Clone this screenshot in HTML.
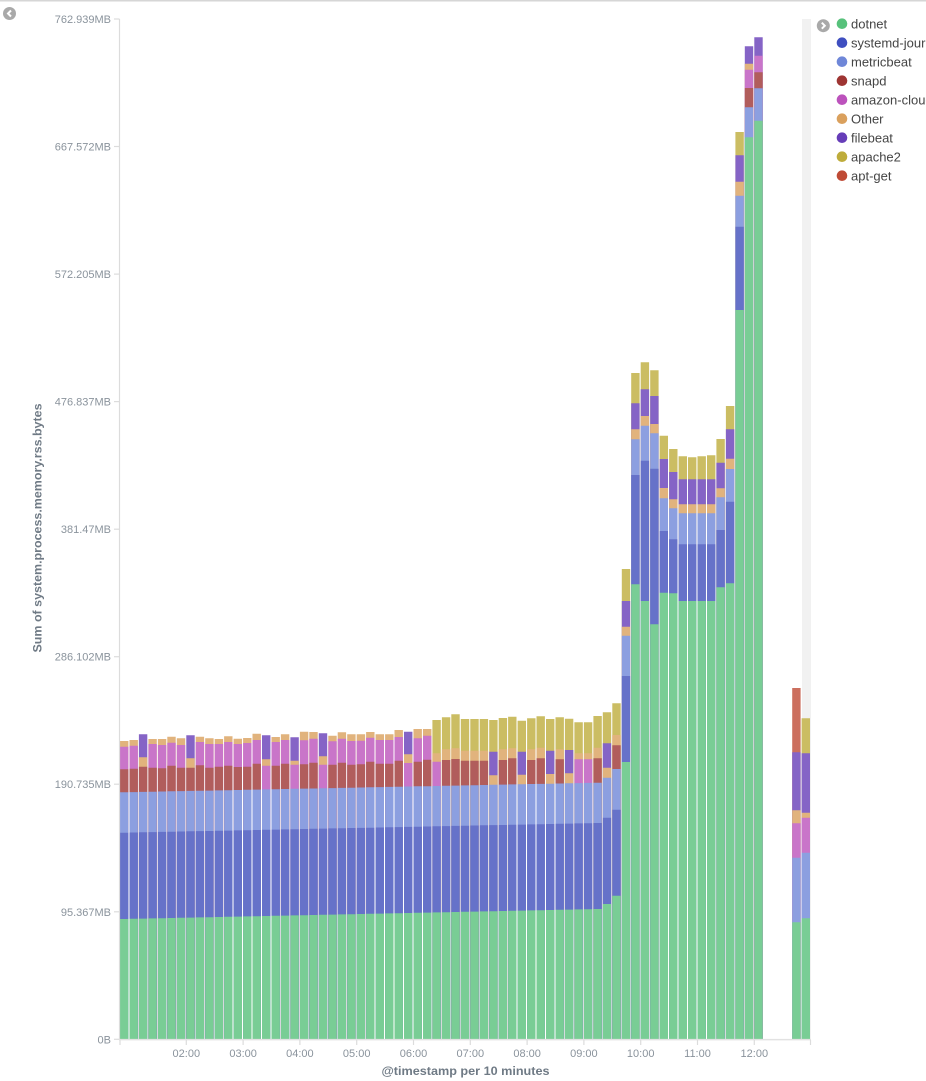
<!DOCTYPE html>
<html>
<head>
<meta charset="utf-8">
<style>
html,body{margin:0;padding:0;background:#fff;width:926px;height:1081px;overflow:hidden;}
svg{display:block;}
.ax{font-family:"Liberation Sans",sans-serif;font-size:11px;fill:#8a939c;}
.tt{font-family:"Liberation Sans",sans-serif;font-size:12px;font-weight:bold;fill:#6f7a85;}
.lg{font-family:"Liberation Sans",sans-serif;font-size:13px;fill:#454545;}
path.b{fill:none;stroke-width:8.4;}
</style>
</head>
<body>
<svg width="926" height="1081" viewBox="0 0 926 1081" xmlns="http://www.w3.org/2000/svg">
<rect x="0" y="0" width="926" height="1081" fill="#fff"/>
<rect x="0" y="0" width="926" height="1.5" fill="#d6d6d6"/>

<!-- collapse icons -->
<circle cx="9.5" cy="13.5" r="6.5" fill="#a9a9a9"/>
<path d="M11 10.5 L8 13.5 L11 16.5" fill="none" stroke="#fff" stroke-width="2"/>
<circle cx="823.3" cy="25.7" r="6.5" fill="#a9a9a9"/>
<path d="M821.8 22.7 L824.8 25.7 L821.8 28.7" fill="none" stroke="#fff" stroke-width="2"/>

<!-- grey band -->
<rect x="802" y="19" width="9" height="1021" fill="#f1f1f1"/>

<!-- y axis ticks/labels -->
<g stroke="#dcdcdc" stroke-width="1.2">
<line x1="114" y1="19" x2="119.5" y2="19"/>
<line x1="114" y1="146.5" x2="119.5" y2="146.5"/>
<line x1="114" y1="274.1" x2="119.5" y2="274.1"/>
<line x1="114" y1="401.6" x2="119.5" y2="401.6"/>
<line x1="114" y1="529.2" x2="119.5" y2="529.2"/>
<line x1="114" y1="656.7" x2="119.5" y2="656.7"/>
<line x1="114" y1="784.2" x2="119.5" y2="784.2"/>
<line x1="114" y1="911.8" x2="119.5" y2="911.8"/>
<line x1="114" y1="1039.3" x2="119.5" y2="1039.3"/>
</g>
<g class="ax" text-anchor="end">
<text x="111" y="23">762.939MB</text>
<text x="111" y="150.5">667.572MB</text>
<text x="111" y="278.1">572.205MB</text>
<text x="111" y="405.6">476.837MB</text>
<text x="111" y="533.2">381.47MB</text>
<text x="111" y="660.7">286.102MB</text>
<text x="111" y="788.2">190.735MB</text>
<text x="111" y="915.8">95.367MB</text>
<text x="111" y="1043.3">0B</text>
</g>
<text class="tt" transform="translate(41.5,528) rotate(-90)" text-anchor="middle" textLength="249" lengthAdjust="spacingAndGlyphs">Sum of system.process.memory.rss.bytes</text>

<!-- bars (top layers first, each to baseline) -->
<path class="b" stroke="#cc6f5e" d="M796.4 688V1040"/>
<path class="b" stroke="#cbbd63" d="M436.6 720V1040M446.1 717.3V1040M455.5 714.3V1040M465 719V1040M474.5 719V1040M483.9 719V1040M493.4 720V1040M502.9 718V1040M512.3 716.7V1040M521.8 720.7V1040M531.3 718.3V1040M540.7 716.3V1040M550.2 719V1040M559.7 717.3V1040M569.1 718.7V1040M578.6 722.3V1040M588.1 722.3V1040M597.6 716V1040M607 712.3V1040M616.5 703.3V1040M626 569V1040M635.4 373V1040M644.9 362.3V1040M654.4 370.3V1040M663.8 435.7V1040M673.3 449V1040M682.8 456.3V1040M692.2 457.3V1040M701.7 456.3V1040M711.2 455.3V1040M720.6 439V1040M730.1 406V1040M739.6 132V1040M805.8 718.3V1040"/>
<path class="b" stroke="#8564c6" d="M143.1 734.3V1040M190.5 735.3V1040M266.2 735.3V1040M294.6 737.3V1040M323 733.3V1040M408.2 731.7V1040M493.4 751.7V1040M521.8 751.7V1040M550.2 750.7V1040M569.1 750V1040M607 743.3V1040M626 601V1040M635.4 403.3V1040M644.9 389.3V1040M654.4 396V1040M663.8 459V1040M673.3 472V1040M682.8 479.3V1040M692.2 479.3V1040M701.7 479.3V1040M711.2 479.3V1040M720.6 462.7V1040M730.1 429.3V1040M739.6 155.3V1040M749 46.3V1040M758.5 37.3V1040M796.4 752.3V1040M805.8 753.3V1040"/>
<path class="b" stroke="#e1b37d" d="M124.2 741V1040M133.7 740V1040M143.1 757.3V1040M152.6 739V1040M162.1 739V1040M171.5 736.7V1040M181 738.3V1040M190.5 758.3V1040M199.9 736.7V1040M209.4 738.3V1040M218.9 739V1040M228.3 736.3V1040M237.8 738.7V1040M247.3 738V1040M256.7 733.7V1040M266.2 759.3V1040M275.7 737V1040M285.1 734.3V1040M294.6 760.7V1040M304.1 731.7V1040M313.5 732V1040M323 756.3V1040M332.5 735.7V1040M341.9 732.3V1040M351.4 734.3V1040M360.9 734.3V1040M370.3 732V1040M379.8 734.3V1040M389.3 734.3V1040M398.7 730V1040M408.2 754.3V1040M417.7 729V1040M427.2 729V1040M436.6 753.3V1040M446.1 749.3V1040M455.5 748.3V1040M465 750.7V1040M474.5 750.7V1040M483.9 750.7V1040M493.4 775.3V1040M502.9 749.3V1040M512.3 748.3V1040M521.8 774.7V1040M531.3 749.3V1040M540.7 747.7V1040M550.2 774V1040M559.7 749.3V1040M569.1 773.3V1040M578.6 753.3V1040M588.1 753.3V1040M597.6 747.7V1040M607 767.7V1040M616.5 735V1040M626 626.7V1040M635.4 429.3V1040M644.9 416V1040M654.4 424V1040M663.8 488V1040M673.3 499.3V1040M682.8 504.3V1040M692.2 504.3V1040M701.7 504.3V1040M711.2 504.3V1040M720.6 488.3V1040M730.1 458.7V1040M739.6 181.7V1040M749 63.7V1040M796.4 810.3V1040M805.8 812.7V1040"/>
<path class="b" stroke="#c975c9" d="M124.2 746.7V1040M133.7 745.7V1040M152.6 744V1040M162.1 745V1040M171.5 742.7V1040M181 745V1040M199.9 742V1040M209.4 744V1040M218.9 744V1040M228.3 742V1040M237.8 744V1040M247.3 743V1040M256.7 740V1040M266.2 765.7V1040M275.7 742V1040M285.1 740V1040M294.6 764.7V1040M304.1 740.3V1040M313.5 738.7V1040M323 764.7V1040M332.5 741.3V1040M341.9 738.7V1040M351.4 741V1040M360.9 740.7V1040M370.3 737.7V1040M379.8 740V1040M389.3 740V1040M398.7 737V1040M408.2 763V1040M417.7 738.3V1040M427.2 735.7V1040M436.6 761.7V1040M578.6 759.3V1040M588.1 759.3V1040M749 69.7V1040M758.5 55.7V1040M796.4 823.3V1040M805.8 817.7V1040"/>
<path class="b" stroke="#b15d5c" d="M124.2 769.3V1040M133.7 768.7V1040M143.1 766.7V1040M152.6 767.7V1040M162.1 768.3V1040M171.5 765.7V1040M181 767.7V1040M190.5 767.7V1040M199.9 765.3V1040M209.4 767.7V1040M218.9 766.7V1040M228.3 765.7V1040M237.8 767V1040M247.3 766.7V1040M256.7 763.7V1040M275.7 765.7V1040M285.1 763.7V1040M304.1 764.3V1040M313.5 762.7V1040M332.5 764.7V1040M341.9 762.7V1040M351.4 764.7V1040M360.9 764.3V1040M370.3 761.7V1040M379.8 763.7V1040M389.3 763.7V1040M398.7 760.7V1040M417.7 761.7V1040M427.2 759.7V1040M446.1 760V1040M455.5 759V1040M465 760.7V1040M474.5 760.7V1040M483.9 760.7V1040M502.9 760V1040M512.3 758.3V1040M531.3 760V1040M540.7 758.3V1040M559.7 759.3V1040M597.6 758.3V1040M616.5 745.3V1040M749 88V1040M758.5 72.3V1040"/>
<path class="b" stroke="#8c9fe0" d="M124.2 792.3V1040M133.7 792.1V1040M143.1 791.9V1040M152.6 791.7V1040M162.1 791.5V1040M171.5 791.3V1040M181 791.1V1040M190.5 790.9V1040M199.9 790.8V1040M209.4 790.6V1040M218.9 790.4V1040M228.3 790.2V1040M237.8 790V1040M247.3 789.8V1040M256.7 789.6V1040M266.2 789.4V1040M275.7 789.2V1040M285.1 789V1040M294.6 788.8V1040M304.1 788.6V1040M313.5 788.5V1040M323 788.3V1040M332.5 788.1V1040M341.9 787.9V1040M351.4 787.7V1040M360.9 787.5V1040M370.3 787.3V1040M379.8 787.1V1040M389.3 786.9V1040M398.7 786.7V1040M408.2 786.5V1040M417.7 786.3V1040M427.2 786.2V1040M436.6 786V1040M446.1 785.8V1040M455.5 785.6V1040M465 785.4V1040M474.5 785.2V1040M483.9 785V1040M493.4 784.8V1040M502.9 784.6V1040M512.3 784.4V1040M521.8 784.2V1040M531.3 784V1040M540.7 783.9V1040M550.2 783.7V1040M559.7 783.5V1040M569.1 783.3V1040M578.6 783.1V1040M588.1 782.9V1040M597.6 782.7V1040M607 777.7V1040M616.5 769V1040M626 635.7V1040M635.4 439.3V1040M644.9 425.7V1040M654.4 433.3V1040M663.8 498.3V1040M673.3 508.3V1040M682.8 513.3V1040M692.2 513.3V1040M701.7 513.3V1040M711.2 513.3V1040M720.6 497.3V1040M730.1 469V1040M739.6 195.7V1040M749 107.3V1040M758.5 88.3V1040M796.4 857.7V1040M805.8 852.7V1040"/>
<path class="b" stroke="#6672c9" d="M124.2 832.7V1040M133.7 832.5V1040M143.1 832.3V1040M152.6 832.1V1040M162.1 831.9V1040M171.5 831.7V1040M181 831.5V1040M190.5 831.3V1040M199.9 831.1V1040M209.4 831V1040M218.9 830.8V1040M228.3 830.6V1040M237.8 830.4V1040M247.3 830.2V1040M256.7 830V1040M266.2 829.8V1040M275.7 829.6V1040M285.1 829.4V1040M294.6 829.2V1040M304.1 829V1040M313.5 828.8V1040M323 828.6V1040M332.5 828.4V1040M341.9 828.2V1040M351.4 828V1040M360.9 827.9V1040M370.3 827.7V1040M379.8 827.5V1040M389.3 827.3V1040M398.7 827.1V1040M408.2 826.9V1040M417.7 826.7V1040M427.2 826.5V1040M436.6 826.3V1040M446.1 826.1V1040M455.5 825.9V1040M465 825.7V1040M474.5 825.5V1040M483.9 825.3V1040M493.4 825.1V1040M502.9 825V1040M512.3 824.8V1040M521.8 824.6V1040M531.3 824.4V1040M540.7 824.2V1040M550.2 824V1040M559.7 823.8V1040M569.1 823.6V1040M578.6 823.4V1040M588.1 823.2V1040M597.6 823V1040M607 817.7V1040M616.5 809.7V1040M626 676V1040M635.4 475V1040M644.9 460.7V1040M654.4 468.7V1040M663.8 531V1040M673.3 539.3V1040M682.8 544.3V1040M692.2 544.3V1040M701.7 544.3V1040M711.2 544.3V1040M720.6 530V1040M730.1 501.7V1040M739.6 226.7V1040"/>
<path class="b" stroke="#79cd95" d="M124.2 919V1040M133.7 918.8V1040M143.1 918.6V1040M152.6 918.4V1040M162.1 918.2V1040M171.5 918V1040M181 917.8V1040M190.5 917.6V1040M199.9 917.4V1040M209.4 917.2V1040M218.9 917V1040M228.3 916.8V1040M237.8 916.6V1040M247.3 916.4V1040M256.7 916.2V1040M266.2 916V1040M275.7 915.8V1040M285.1 915.6V1040M294.6 915.4V1040M304.1 915.2V1040M313.5 915V1040M323 914.8V1040M332.5 914.6V1040M341.9 914.4V1040M351.4 914.2V1040M360.9 914V1040M370.3 913.8V1040M379.8 913.6V1040M389.3 913.4V1040M398.7 913.2V1040M408.2 913V1040M417.7 912.8V1040M427.2 912.6V1040M436.6 912.4V1040M446.1 912.2V1040M455.5 912V1040M465 911.8V1040M474.5 911.6V1040M483.9 911.4V1040M493.4 911.2V1040M502.9 911V1040M512.3 910.8V1040M521.8 910.6V1040M531.3 910.4V1040M540.7 910.2V1040M550.2 910V1040M559.7 909.8V1040M569.1 909.6V1040M578.6 909.4V1040M588.1 909.2V1040M597.6 909V1040M607 904V1040M616.5 895.7V1040M626 762V1040M635.4 584.3V1040M644.9 601V1040M654.4 624.3V1040M663.8 592.7V1040M673.3 593.3V1040M682.8 601V1040M692.2 601V1040M701.7 601V1040M711.2 601V1040M720.6 587.3V1040M730.1 583.3V1040M739.6 310V1040M749 137.3V1040M758.5 120.7V1040M796.4 922.3V1040M805.8 918.3V1040"/>

<!-- axes lines -->
<line x1="119.5" y1="19" x2="119.5" y2="1040" stroke="#dcdcdc" stroke-width="1.2"/>
<line x1="119" y1="1039.6" x2="811" y2="1039.6" stroke="#e2e2e2" stroke-width="1.5"/>
<g stroke="#dcdcdc" stroke-width="1.2">
<line x1="120" y1="1040" x2="120" y2="1045"/>
<line x1="186.3" y1="1040" x2="186.3" y2="1045"/>
<line x1="243.1" y1="1040" x2="243.1" y2="1045"/>
<line x1="299.9" y1="1040" x2="299.9" y2="1045"/>
<line x1="356.7" y1="1040" x2="356.7" y2="1045"/>
<line x1="413.5" y1="1040" x2="413.5" y2="1045"/>
<line x1="470.3" y1="1040" x2="470.3" y2="1045"/>
<line x1="527.1" y1="1040" x2="527.1" y2="1045"/>
<line x1="583.9" y1="1040" x2="583.9" y2="1045"/>
<line x1="640.7" y1="1040" x2="640.7" y2="1045"/>
<line x1="697.5" y1="1040" x2="697.5" y2="1045"/>
<line x1="754.3" y1="1040" x2="754.3" y2="1045"/>
<line x1="810.5" y1="1040" x2="810.5" y2="1045"/>
</g>
<g class="ax" text-anchor="middle">
<text x="186.3" y="1057">02:00</text>
<text x="243.1" y="1057">03:00</text>
<text x="299.9" y="1057">04:00</text>
<text x="356.7" y="1057">05:00</text>
<text x="413.5" y="1057">06:00</text>
<text x="470.3" y="1057">07:00</text>
<text x="527.1" y="1057">08:00</text>
<text x="583.9" y="1057">09:00</text>
<text x="640.7" y="1057">10:00</text>
<text x="697.5" y="1057">11:00</text>
<text x="754.3" y="1057">12:00</text>
</g>
<text class="tt" x="465.5" y="1075" text-anchor="middle" textLength="168" lengthAdjust="spacingAndGlyphs">@timestamp per 10 minutes</text>

<!-- legend -->
<circle cx="842" cy="23.7" r="5.3" fill="#57c17b"/>
<circle cx="842" cy="42.7" r="5.3" fill="#3f4fc0"/>
<circle cx="842" cy="61.7" r="5.3" fill="#6f87d8"/>
<circle cx="842" cy="80.7" r="5.3" fill="#9e3533"/>
<circle cx="842" cy="99.7" r="5.3" fill="#bc52bc"/>
<circle cx="842" cy="118.7" r="5.3" fill="#daa05d"/>
<circle cx="842" cy="137.7" r="5.3" fill="#663db8"/>
<circle cx="842" cy="156.7" r="5.3" fill="#beac3b"/>
<circle cx="842" cy="175.7" r="5.3" fill="#bf4b36"/>
<g class="lg">
<text x="851" y="28.3">dotnet</text>
<text x="851" y="47.3">systemd-journal</text>
<text x="851" y="66.3">metricbeat</text>
<text x="851" y="85.3">snapd</text>
<text x="851" y="104.3">amazon-cloudwatch</text>
<text x="851" y="123.3">Other</text>
<text x="851" y="142.3">filebeat</text>
<text x="851" y="161.3">apache2</text>
<text x="851" y="180.3">apt-get</text>
</g>
</svg>
</body>
</html>
